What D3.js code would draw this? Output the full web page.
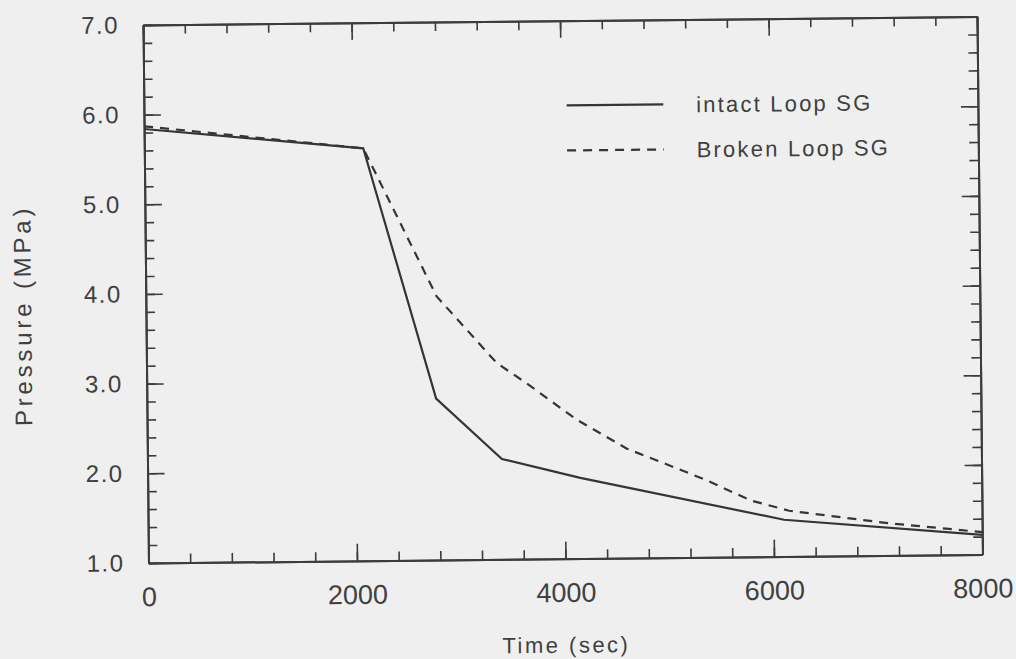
<!DOCTYPE html>
<html>
<head>
<meta charset="utf-8">
<script src="https://cdn.jsdelivr.net/npm/d3@7/dist/d3.min.js"></script>
<style>
  html, body { margin: 0; padding: 0; background: #efefef; }
  svg { display: block; }
  text { font-family: "Liberation Sans", Arial, Helvetica, sans-serif; fill: #404040; }
</style>
</head>
<body>
<svg id="chart" width="1016" height="659"></svg>
<script>
// Steam generator pressure histories
const intactTime     = [0, 2100, 2775, 3400, 4150, 6100, 8000];
const intactPressure = [5.84, 5.60, 2.80, 2.12, 1.90, 1.41, 1.22];

const brokenTime     = [0, 2100, 2790, 3360, 3645, 4120, 4600, 4920, 5360, 5780, 6150, 7100, 8000];
const brokenPressure = [5.87, 5.60, 3.94, 3.19, 2.96, 2.55, 2.22, 2.07, 1.86, 1.63, 1.51, 1.36, 1.25];

const xMajorTicks = [0, 2000, 4000, 6000, 8000];
const xMinorTicks = d3.range(0, 8001, 400);
const yMajorTicks = [1, 2, 3, 4, 5, 6, 7];
const yMinorTicks = d3.range(10, 71, 2).map(v => v / 10);

const seriesNames = ["intact Loop SG", "Broken Loop SG"];

const W = 1016, H = 659;
const plot = { left: 145.75, right: 979.75, top: 20.75, bottom: 558.75 };
const cx = (plot.left + plot.right) / 2, cy = (plot.top + plot.bottom) / 2;

const textColor = "#404040";
const svg = d3.select("#chart");
svg.append("rect").attr("width", W).attr("height", H).attr("fill", "#efefef");

// the whole figure sits slightly tilted on the page
const g = svg.append("g").attr("transform", `rotate(-0.58, ${cx}, ${cy})`);

const x = d3.scaleLinear().domain([0, 8000]).range([plot.left, plot.right]);
const y = d3.scaleLinear().domain([1, 7]).range([plot.bottom, plot.top]);

const axisColor = "#3c3c3c";
const MAJ = 17, MIN = 9;

function styleAxis(sel) {
  sel.selectAll("path.domain").attr("stroke", axisColor).attr("stroke-width", 2);
  sel.selectAll(".tick line").attr("stroke", axisColor).attr("stroke-width", 1.6);
}

// bottom axis
g.append("g").attr("transform", `translate(0,${plot.bottom})`)
  .call(d3.axisBottom(x).tickValues(xMinorTicks).tickSize(-MIN).tickSizeOuter(0).tickFormat(""))
  .call(styleAxis);
const xb = g.append("g").attr("transform", `translate(0,${plot.bottom})`)
  .call(d3.axisBottom(x).tickValues(xMajorTicks).tickSize(-MAJ).tickSizeOuter(0).tickPadding(24)
        .tickFormat(d3.format("d")))
  .call(styleAxis);
xb.selectAll("text").attr("font-size", 27).attr("fill", textColor)
  .style("font-family", "'Liberation Sans', Arial, sans-serif");

// top axis (ticks only)
g.append("g").attr("transform", `translate(0,${plot.top})`)
  .call(d3.axisTop(x).tickValues(xMinorTicks).tickSize(-MIN).tickSizeOuter(0).tickFormat(""))
  .call(styleAxis);
g.append("g").attr("transform", `translate(0,${plot.top})`)
  .call(d3.axisTop(x).tickValues(xMajorTicks).tickSize(-MAJ).tickSizeOuter(0).tickFormat(""))
  .call(styleAxis);

// left axis
g.append("g").attr("transform", `translate(${plot.left},0)`)
  .call(d3.axisLeft(y).tickValues(yMinorTicks).tickSize(-MIN).tickSizeOuter(0).tickFormat(""))
  .call(styleAxis);
const yl = g.append("g").attr("transform", `translate(${plot.left},0)`)
  .call(d3.axisLeft(y).tickValues(yMajorTicks).tickSize(-MAJ).tickSizeOuter(0).tickPadding(24)
        .tickFormat(d3.format(".1f")))
  .call(styleAxis);
yl.selectAll("text").attr("font-size", 24).attr("fill", textColor)
  .attr("letter-spacing", 1.5)
  .style("font-family", "'Liberation Sans', Arial, sans-serif");

// right axis (ticks only)
g.append("g").attr("transform", `translate(${plot.right},0)`)
  .call(d3.axisRight(y).tickValues(yMinorTicks).tickSize(-MIN).tickSizeOuter(0).tickFormat(""))
  .call(styleAxis);
g.append("g").attr("transform", `translate(${plot.right},0)`)
  .call(d3.axisRight(y).tickValues(yMajorTicks).tickSize(-MAJ).tickSizeOuter(0).tickFormat(""))
  .call(styleAxis);

// axis titles
g.append("text")
  .attr("x", cx).attr("y", 652.7)
  .attr("text-anchor", "middle")
  .attr("font-size", 22).attr("letter-spacing", 2.5)
  .text("Time (sec)");

g.append("text")
  .attr("transform", `translate(31,310) rotate(-90)`)
  .attr("text-anchor", "middle")
  .attr("font-size", 24).attr("letter-spacing", 3.8)
  .text("Pressure (MPa)");

// curves
const line = d3.line().x(d => x(d[0])).y(d => y(d[1]));
const intact = intactTime.map((t, i) => [t, intactPressure[i]]);
const broken = brokenTime.map((t, i) => [t, brokenPressure[i]]);

const lineColor = "#353535";
g.append("path").datum(broken)
  .attr("d", line).attr("fill", "none")
  .attr("stroke", lineColor).attr("stroke-width", 2.2)
  .attr("stroke-dasharray", "9,7");
g.append("path").datum(intact)
  .attr("d", line).attr("fill", "none")
  .attr("stroke", lineColor).attr("stroke-width", 2.2);

// legend
const legend = g.append("g");
const legendRows = [
  { name: seriesNames[0], dash: null, y: 105.5 },
  { name: seriesNames[1], dash: "9,7", y: 150.5 }
];
legendRows.forEach(r => {
  legend.append("line")
    .attr("x1", 568.5).attr("x2", 665.2).attr("y1", r.y).attr("y2", r.y)
    .attr("stroke", lineColor).attr("stroke-width", 2.2)
    .attr("stroke-dasharray", r.dash);
  legend.append("text")
    .attr("x", 698).attr("y", r.y + 8)
    .attr("font-size", 22).attr("letter-spacing", 2.2)
    .text(r.name);
});
</script>
</body>
</html>
